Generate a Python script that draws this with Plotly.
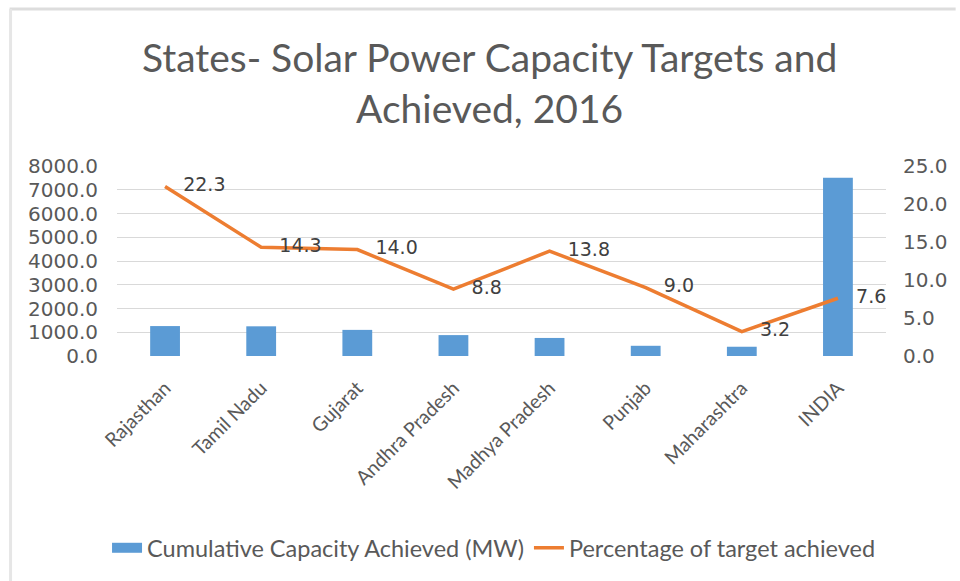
import plotly.graph_objects as go

states = ["Rajasthan", "Tamil Nadu", "Gujarat", "Andhra Pradesh", "Madhya Pradesh",
          "Punjab", "Maharashtra", "INDIA"]
capacity_mw = [1260, 1250, 1100, 880, 760, 430, 390, 7510]
pct_target = [22.3, 14.3, 14.0, 8.8, 13.8, 9.0, 3.2, 7.6]

left_ticks = [0, 1000, 2000, 3000, 4000, 5000, 6000, 7000, 8000]
right_ticks = [0, 5, 10, 15, 20, 25]

BLUE = "#5B9BD5"
ORANGE = "#ED7D31"
TXT = "#595959"
FONT = "Lato, Open Sans, sans-serif"
NUMFONT = "DejaVu Sans, sans-serif"

fig = go.Figure()
fig.add_trace(go.Bar(
    x=states, y=capacity_mw, name="Cumulative Capacity Achieved (MW)",
    marker=dict(color=BLUE, line=dict(width=0)), width=0.31, showlegend=False,
))
# legend-only entry giving the wide rectangular swatch
fig.add_trace(go.Scatter(
    x=[None], y=[None], mode="lines", name="Cumulative Capacity Achieved (MW)",
    line=dict(color=BLUE, width=13), hoverinfo="skip",
))
fig.add_trace(go.Scatter(
    x=states, y=pct_target, name="Percentage of target achieved", yaxis="y2",
    mode="lines+text", line=dict(color=ORANGE, width=3.5),
    text=["\u00a0\u00a0\u00a0" + f"{v:.1f}" for v in pct_target],
    textposition="middle right",
    textfont=dict(family=NUMFONT, size=19, color="#404040"),
))

fig.update_layout(
    width=960, height=581,
    paper_bgcolor="white", plot_bgcolor="white",
    margin=dict(l=117, r=70, t=166, b=225),
    title=dict(text="States- Solar Power Capacity Targets and<br>Achieved, 2016",
               x=0.51, xanchor="center", yref="container", y=1 - 72 / 581,
               yanchor="middle",
               font=dict(family=FONT, size=39, color=TXT)),
    xaxis=dict(tickangle=-45, tickfont=dict(family=FONT, size=19.5, color=TXT),
               showgrid=False, showline=False, ticks="", ticklabelstandoff=16),
    yaxis=dict(range=[0, 8000], tickvals=left_ticks, tickformat=".1f",
               tickfont=dict(family=NUMFONT, size=20, color=TXT),
               gridcolor="#D9D9D9", gridwidth=1, zeroline=False,
               showline=False, ticklabelstandoff=18),
    yaxis2=dict(range=[0, 25], tickvals=right_ticks, tickformat=".1f",
                overlaying="y", side="right", showgrid=False, zeroline=False,
                tickfont=dict(family=NUMFONT, size=20, color=TXT),
                ticklabelstandoff=16),
    legend=dict(orientation="h", x=(496 - 117) / 773, xanchor="center",
                yref="container", y=1 - 548 / 581, yanchor="middle",
                font=dict(family=FONT, size=23.5, color=TXT),
                traceorder="normal"),
    showlegend=True,
    shapes=[
        dict(type="line", xref="paper", yref="paper",
             x0=(9 - 117) / 773, x1=(960 - 117) / 773,
             y0=(356 - 9) / 190, y1=(356 - 9) / 190,
             line=dict(color="#DDDDDD", width=3)),
        dict(type="line", xref="paper", yref="paper",
             x0=(10 - 117) / 773, x1=(10 - 117) / 773,
             y0=(356 - 9) / 190, y1=(356 - 581) / 190,
             line=dict(color="#E6E6E6", width=3)),
    ],
)

fig.write_html("out.html", config={"displayModeBar": False},
               post_script="document.body.style.margin='0';document.body.style.overflow='hidden';window.dispatchEvent(new Event('resize'));")
